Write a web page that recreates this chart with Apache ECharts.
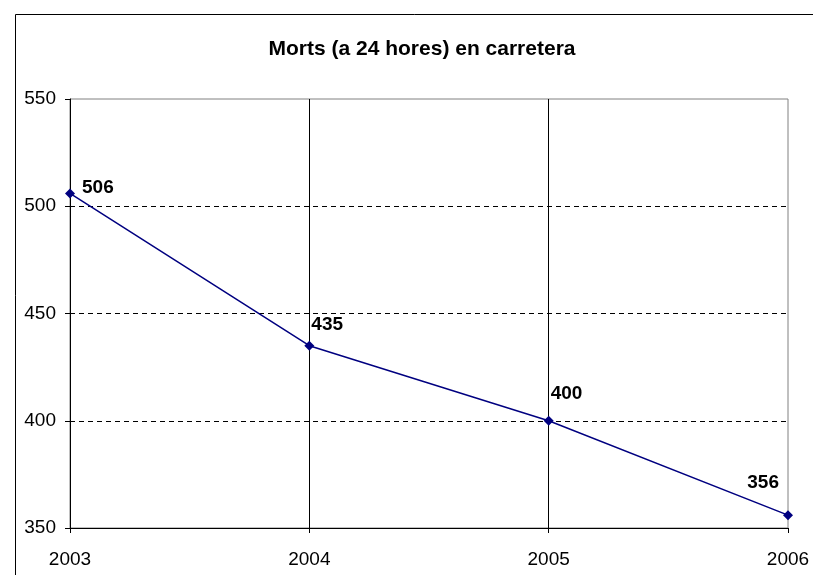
<!DOCTYPE html>
<html>
<head>
<meta charset="utf-8">
<script src="https://cdn.jsdelivr.net/npm/echarts@6/dist/echarts.min.js"></script>
<style>html,body{margin:0;padding:0;background:#fff;}#c{width:813px;height:575px;}</style>
</head>
<body>
<div id="c"></div>
<script>
var titleText = 'Morts (a 24 hores) en carretera';
var years = ['2003', '2004', '2005', '2006'];
var deaths = [506, 435, 400, 356];
var yTicks = [350, 400, 450, 500, 550];

// label placement per point (styling, kept separate from data)
var labelOffsets = [[12, -6], [2, -21], [2, -27], [-9, -32]];
var labelAligns = ['left', 'left', 'left', 'right'];

var chart = echarts.init(document.getElementById('c'), null, {renderer: 'canvas'});
var font = 'Liberation Sans, Arial, sans-serif';
chart.setOption({
  animation: false,
  backgroundColor: '#ffffff',
  title: {
    text: titleText,
    left: 417, top: 34, textAlign: 'center',
    textStyle: {fontFamily: font, fontWeight: 'bold', fontSize: 21, color: '#000'}
  },
  graphic: [{
    type: 'rect', left: 13, top: 12, z: -1,
    shape: {x: 0, y: 0, width: 900, height: 700},
    style: {fill: 'none', stroke: '#000', lineWidth: 1}
  }],
  grid: {
    left: 70, right: 25, top: 99, bottom: 47,
    show: true, borderColor: '#808080', borderWidth: 1, backgroundColor: 'transparent'
  },
  xAxis: {
    type: 'category', data: years, boundaryGap: false,
    axisLine: {lineStyle: {color: '#000', width: 1}},
    axisTick: {show: true, length: 5, lineStyle: {color: '#000'}},
    axisLabel: {fontFamily: font, fontSize: 19, color: '#000', margin: 22},
    splitLine: {show: true, lineStyle: {color: ['rgba(0,0,0,0)', '#000', '#000', 'rgba(0,0,0,0)'], width: 1}}
  },
  yAxis: {
    type: 'value', min: 350, max: 550, interval: 50,
    axisLine: {show: true, lineStyle: {color: '#000', width: 1}},
    axisTick: {show: true, length: 5, lineStyle: {color: '#000'}},
    axisLabel: {fontFamily: font, fontSize: 19, color: '#000', margin: 14},
    splitLine: {show: true, lineStyle: {type: [5, 4], color: ['rgba(0,0,0,0)', '#000', '#000', '#000', 'rgba(0,0,0,0)'], width: 1}}
  },
  series: [{
    type: 'line',
    data: deaths.map(function (v, i) {
      return {value: v, label: {offset: labelOffsets[i], align: labelAligns[i]}};
    }),
    symbol: 'diamond', symbolSize: 10,
    lineStyle: {color: '#000080', width: 1.5},
    itemStyle: {color: '#000080'},
    label: {
      show: true, position: 'inside',
      fontFamily: font, fontWeight: 'bold', fontSize: 19, color: '#000',
      verticalAlign: 'middle'
    }
  }]
});
</script>
</body>
</html>
